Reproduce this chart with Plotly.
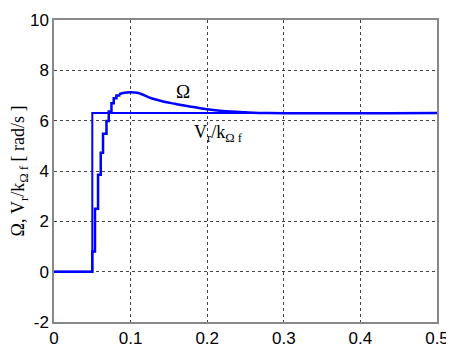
import plotly.graph_objects as go

# Reference (V_r / k_Omega_f) step
ref_t = [0.0, 0.05, 0.5]
ref_v = [0.0, 6.3, 6.3]

# Omega: sampled staircase during the rise
om_step_t = [0.0, 0.05, 0.0535, 0.0575, 0.061, 0.064, 0.0685, 0.0715, 0.075, 0.078, 0.0815, 0.085]
om_step_v = [0.0, 0.8, 2.5, 3.85, 4.73, 5.48, 5.99, 6.36, 6.69, 6.89, 7.0, 7.05]

# Omega: smooth part (overshoot and settling)
om_t = [0.085, 0.09, 0.1, 0.11, 0.127, 0.14, 0.158, 0.17, 0.184, 0.2, 0.22, 0.25, 0.28, 0.5]
om_v = [7.05, 7.1, 7.13, 7.1, 6.89, 6.78, 6.67, 6.6, 6.53, 6.45, 6.38, 6.33, 6.3, 6.3]

x_ticks = [0, 0.1, 0.2, 0.3, 0.4, 0.5]
x_tick_labels = ["0", "0.1", "0.2", "0.3", "0.4", "0.5"]
y_ticks = [-2, 0, 2, 4, 6, 8, 10]
y_tick_labels = ["-2", "0", "2", "4", "6", "8", "10"]

blue = "#0000FF"
fig = go.Figure()
fig.add_trace(go.Scatter(x=ref_t, y=ref_v, mode="lines", line=dict(color=blue, width=2, shape="hv")))
fig.add_trace(go.Scatter(x=om_step_t, y=om_step_v, mode="lines", line=dict(color=blue, width=2.5, shape="hv")))
fig.add_trace(go.Scatter(x=om_t, y=om_v, mode="lines", line=dict(color=blue, width=2.5, shape="spline")))

axis_common = dict(
    showline=True, linecolor="#888888", linewidth=1.5, mirror=True,
    showgrid=True, gridcolor="#444444", griddash="dot", gridwidth=1,
    zeroline=False, ticks="", automargin=False,
    tickfont=dict(family="Liberation Sans", size=17, color="black"),
)

# the page body has an 8px margin, so the figure is shrunk by that amount
fig.update_layout(
    width=446, height=343,
    margin=dict(l=46, r=17, t=12, b=29),
    paper_bgcolor="white", plot_bgcolor="white",
    showlegend=False,
    xaxis=dict(range=[0, 0.5], tickvals=x_ticks, ticktext=x_tick_labels, **axis_common),
    yaxis=dict(range=[-2, 10], tickvals=y_ticks, ticktext=y_tick_labels,
               title=dict(text="Ω, V<sub>r</sub>/k<sub>Ω f</sub> [ rad/s ]",
                          font=dict(family="Liberation Serif", size=18, color="black"), standoff=4),
               **axis_common),
    annotations=[
        dict(x=0.247, y=-2.74, xref="x", yref="y", text="t [s]", showarrow=False,
             font=dict(family="Liberation Serif", size=16, color="black")),
        dict(x=0.168, y=7.14, xref="x", yref="y", text="Ω", showarrow=False,
             font=dict(family="Liberation Serif", size=19, color="black")),
        dict(x=0.215, y=5.5, xref="x", yref="y", text="V<sub>r</sub>/k<sub>Ω f</sub>", showarrow=False,
             font=dict(family="Liberation Serif", size=18, color="black")),
    ],
)

fig.write_html("out.html")
